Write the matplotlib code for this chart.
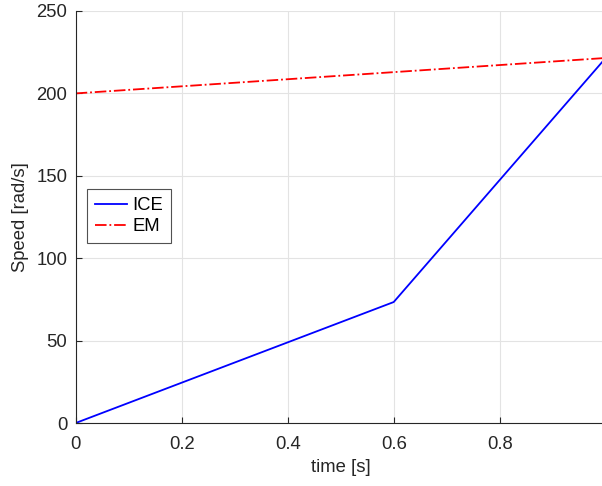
import matplotlib
matplotlib.use("Agg")
import matplotlib.pyplot as plt

plt.rcParams['font.family'] = ['Liberation Sans', 'DejaVu Sans']

# Speed profiles over the launch interval
time_ice = [0.0, 0.6, 1.0]
speed_ice = [0.0, 73.4, 221.5]
time_em = [0.0, 1.0]
speed_em = [200.0, 221.5]

xticks = [0, 0.2, 0.4, 0.6, 0.8, 1]
xtick_labels = ['0', '0.2', '0.4', '0.6', '0.8', '1']
yticks = [0, 50, 100, 150, 200, 250]

fs = 13.3

fig = plt.figure(figsize=(6.02, 4.86), dpi=100)
ax = fig.add_axes([75.7 / 602, 1 - 423 / 486, 530 / 602, 412 / 486])

ax.plot(time_ice, speed_ice, color='#0000ff', lw=1.3, label='ICE')
ax.plot(time_em, speed_em, color='#ff0000', lw=1.3, ls='-.', label='EM')

ax.set_xlim(0, 1)
ax.set_ylim(0, 250)
ax.set_xticks(xticks)
ax.set_xticklabels(xtick_labels)
ax.set_yticks(yticks)

ax.grid(True, color='#e3e3e3', lw=0.8)
ax.set_axisbelow(True)
for s in ['top', 'right']:
    ax.spines[s].set_visible(False)
for s in ['left', 'bottom']:
    ax.spines[s].set_color('#262626')
    ax.spines[s].set_linewidth(0.8)
ax.tick_params(direction='in', length=4, width=0.8, colors='#262626',
               labelsize=fs)
ax.tick_params(axis='x', pad=9)
ax.tick_params(axis='y', pad=6)

ax.set_xlabel('time [s]', fontsize=fs, color='#262626', labelpad=5)
ax.set_ylabel('Speed [rad/s]', fontsize=fs, color='#262626', labelpad=5)

leg = ax.legend(loc='upper left', bbox_to_anchor=(0.021, 0.568), fontsize=fs,
                frameon=True, fancybox=False, edgecolor='#262626',
                handlelength=1.75, borderpad=0.45, labelspacing=0.2,
                handletextpad=0.25, borderaxespad=0)
leg.get_frame().set_linewidth(0.8)

fig.savefig('out.png', dpi=100)
